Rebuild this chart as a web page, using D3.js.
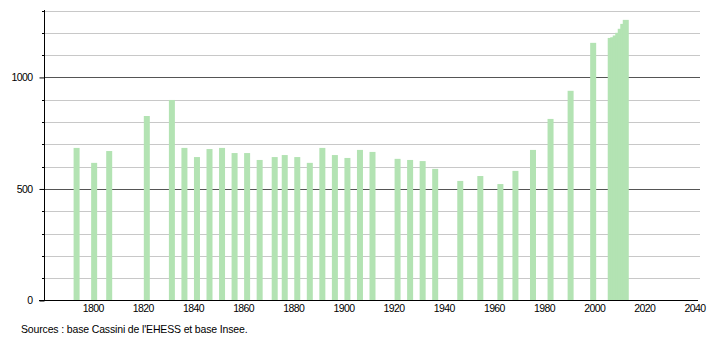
<!DOCTYPE html>
<html>
<head>
<meta charset="utf-8">
<script src="https://cdn.jsdelivr.net/npm/d3@7"></script>
<style>
  body { margin: 0; background: #fff; }
  svg { display: block; font-family: "Liberation Sans", Arial, sans-serif; }
</style>
</head>
<body>
<div id="chart"></div>
<script>
// census years and population
var years = [1793, 1800, 1806, 1821, 1831, 1836, 1841, 1846, 1851, 1856,
  1861, 1866, 1872, 1876, 1881, 1886, 1891, 1896, 1901, 1906, 1911,
  1921, 1926, 1931, 1936, 1946, 1954, 1962, 1968, 1975, 1982, 1990, 1999,
  2006, 2007, 2008, 2009, 2010, 2011, 2012];
var population = [684, 617, 670, 827, 899, 684, 643, 679, 684, 661,
  661, 630, 643, 652, 643, 617, 684, 652, 639, 675, 666,
  635, 630, 625, 590, 536, 558, 522, 581, 675, 814, 940, 1155,
  1177, 1180, 1188, 1200, 1218, 1240, 1258];
var xTicks = [1800, 1820, 1840, 1860, 1880, 1900, 1920, 1940, 1960, 1980, 2000, 2020, 2040];
var yTicks = [0, 500, 1000];
var source = "Sources : base Cassini de l'EHESS et base Insee.";

var width = 710, height = 340;

var x = d3.scaleLinear().domain([1780, 2042]).range([44, 701]);
var y = d3.scaleLinear().domain([0, 1300]).range([300.5, 10.5]);

var svg = d3.select("#chart").append("svg")
  .attr("width", width)
  .attr("height", height);

// gridlines every 100, darker at 500s
svg.append("g").selectAll("line")
  .data(d3.range(100, 1301, 100))
  .enter().append("line")
  .attr("x1", 44).attr("x2", 700)
  .attr("y1", function(d) { return Math.round(y(d)) + 0.5; })
  .attr("y2", function(d) { return Math.round(y(d)) + 0.5; })
  .attr("stroke", function(d) { return d % 500 == 0 ? "#555" : "#c8c8c8"; })
  .attr("stroke-width", 1);

// bars
svg.append("g").selectAll("rect")
  .data(years)
  .enter().append("rect")
  .attr("x", function(d) { return x(d) - 3; })
  .attr("width", 6)
  .attr("y", function(d, i) { return y(population[i]); })
  .attr("height", function(d, i) { return y(0) - y(population[i]); })
  .attr("fill", "#b3e3b3");

// y axis
var yAxis = d3.axisLeft(y)
  .tickValues(yTicks)
  .tickSize(5)
  .tickPadding(7)
  .tickFormat(d3.format("d"));
var gy = svg.append("g")
  .attr("transform", "translate(44.5,0)")
  .call(yAxis);
gy.select(".domain").remove();
gy.selectAll("text").attr("font-size", 10.5).attr("letter-spacing", -0.6)
  .attr("fill", "#000").attr("font-family", null);

// minor ticks
svg.append("g").selectAll("line")
  .data(d3.range(100, 1301, 100).filter(function(d) { return d % 500 != 0; }))
  .enter().append("line")
  .attr("x1", 42).attr("x2", 44.5)
  .attr("y1", function(d) { return Math.round(y(d)) + 0.5; })
  .attr("y2", function(d) { return Math.round(y(d)) + 0.5; })
  .attr("stroke", "#000");

svg.append("line")
  .attr("x1", 44.5).attr("x2", 44.5)
  .attr("y1", 10).attr("y2", 301)
  .attr("stroke", "#000");

// x axis
var xAxis = d3.axisBottom(x)
  .tickValues(xTicks)
  .tickSize(0)
  .tickPadding(4)
  .tickFormat(d3.format("d"));
var gx = svg.append("g")
  .attr("transform", "translate(-1.5,300.5)")
  .call(xAxis);
gx.select(".domain").remove();
gx.selectAll("text").attr("font-size", 10.5).attr("letter-spacing", -0.6)
  .attr("fill", "#000").attr("font-family", null);

svg.append("line")
  .attr("x1", 39).attr("x2", 698)
  .attr("y1", 300.5).attr("y2", 300.5)
  .attr("stroke", "#000");

svg.append("text")
  .attr("x", 21)
  .attr("y", 333)
  .attr("font-size", 10.5)
  .attr("letter-spacing", -0.15)
  .text(source);
</script>
</body>
</html>
